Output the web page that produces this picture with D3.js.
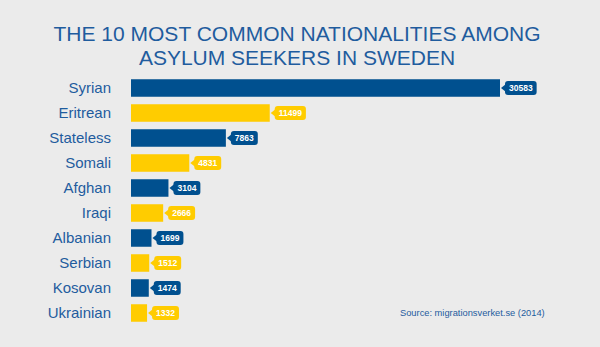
<!DOCTYPE html>
<html>
<head>
<meta charset="utf-8">
<script src="https://cdn.jsdelivr.net/npm/d3@7"></script>
<style>
  body { margin: 0; background: #ebebeb; }
  svg { display: block; font-family: "Liberation Sans", Arial, sans-serif; }
</style>
</head>
<body>
<div id="chart"></div>
<script>
// chart data
var nationalities = ["Syrian", "Eritrean", "Stateless", "Somali", "Afghan",
                     "Iraqi", "Albanian", "Serbian", "Kosovan", "Ukrainian"];
var seekers = [30583, 11499, 7863, 4831, 3104, 2666, 1699, 1512, 1474, 1332];
var titleLines = ["THE 10 MOST COMMON NATIONALITIES AMONG", "ASYLUM SEEKERS IN SWEDEN"];
var sourceText = "Source: migrationsverket.se (2014)";

var svgWidth = 600;
var svgHeight = 347;

var blue = "#00508f";
var yellow = "#ffcc00";
var textBlue = "#1f5c9e";

var data = nationalities.map((n, i) => ({ name: n, value: seekers[i] }));

var svg = d3.select("#chart")
  .append("svg")
    .attr("width", svgWidth)
    .attr("height", svgHeight);

svg.append("rect")
    .attr("width", svgWidth)
    .attr("height", svgHeight)
    .attr("fill", "#ebebeb");

// title
svg.append("text")
    .attr("x", 297)
    .attr("y", 41)
    .attr("text-anchor", "middle")
    .attr("fill", textBlue)
    .style("font-size", "21px")
    .selectAll("tspan").data(titleLines)
    .enter().append("tspan")
      .attr("x", 297)
      .attr("dy", (d, i) => i === 0 ? 0 : 24)
      .text(d => d);

// scales
var x = d3.scaleLinear()
    .domain([0, d3.max(seekers)])
    .range([131, 500]);

var y = d3.scaleBand()
    .domain(nationalities)
    .range([75.5, 325.5])
    .paddingInner(0.3)
    .paddingOuter(0.15);

// category labels
svg.append("g")
    .attr("transform", "translate(111,0)")
    .call(d3.axisLeft(y).tickSize(0).tickPadding(0))
    .call(g => g.select(".domain").remove())
    .selectAll("text")
      .attr("fill", textBlue)
      .style("font-size", "15px")
      .style("font-family", "\"Liberation Sans\", Arial, sans-serif");

// bars
svg.selectAll(".bar").data(data)
  .enter().append("rect")
    .attr("class", "bar")
    .attr("x", x(0))
    .attr("y", d => y(d.name))
    .attr("width", d => x(d.value) - x(0))
    .attr("height", y.bandwidth())
    .attr("fill", (d, i) => i % 2 === 0 ? blue : yellow);

// value tags
var tags = svg.selectAll(".tag").data(data)
  .enter().append("g")
    .attr("class", "tag")
    .attr("transform", d => `translate(${x(d.value) + 1},${y(d.name) + y.bandwidth() / 2})`);

tags.each(function(d, i) {
    var g = d3.select(this);
    var col = i % 2 === 0 ? blue : yellow;
    var txt = g.append("text")
        .attr("x", 8)
        .attr("y", 3)
        .attr("fill", "#fff")
        .style("font-size", "8.5px")
        .style("font-weight", "bold")
        .text(d.value);
    var w = txt.node().getComputedTextLength() + 8;
    var h = 14, r = 3, x0 = 4;
    g.insert("rect", "text")
        .attr("x", x0)
        .attr("y", -h / 2)
        .attr("width", w)
        .attr("height", h)
        .attr("rx", r)
        .attr("fill", col);
    g.insert("path", "text")
        .attr("d", `M0,0 L${x0 + 1},-4 L${x0 + 1},4 Z`)
        .attr("fill", col);
});

// source
svg.append("text")
    .attr("x", 400)
    .attr("y", 316)
    .attr("fill", textBlue)
    .style("font-size", "9.3px")
    .text(sourceText);
</script>
</body>
</html>
